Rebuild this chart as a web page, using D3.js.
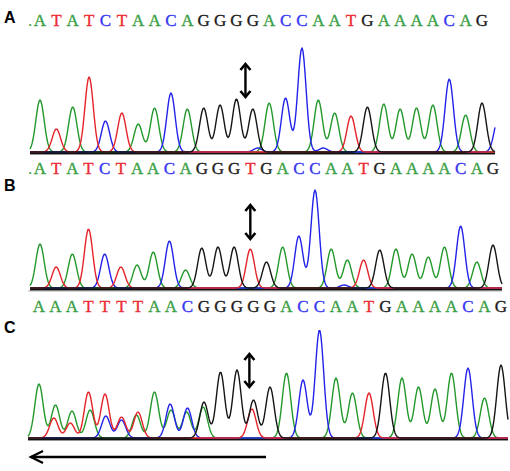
<!DOCTYPE html>
<html>
<head>
<meta charset="utf-8">
<script src="https://cdn.jsdelivr.net/npm/d3@7"></script>
<style>
  body { margin: 0; background: #fff; }
  svg { display: block; }
</style>
</head>
<body>
<div id="chart"></div>
<script>
// called sequences shown above each trace
const seqA = ".ATATCTAACAGGGGACCAATGAAAACAG";
const seqB = ".ATATCTAACAGGGTGACCAATGAAAACAG";
const seqC = "AAATTTTAACGGGGGACCAATGAAAACAG";

// main peak per base position (trace A has one clipped peak at the end)
const basesA = "ATATCTAACAGGGGACCAATGAAAACAGC";
const heightsA = [52, 23, 45, 75, 31, 39, 28, 44, 59, 43, 44, 47, 53, 43, 49, 54, 104, 52, 39, 36, 45, 48, 43, 44, 47, 73, 37, 49, 34];

const basesB = "ATATCTAACAGGGTGACCAATGAAAACAG";
const heightsB = [44, 21, 34, 59, 34, 21, 23, 36, 47, 18, 40, 41, 41, 39, 26, 41, 52, 98, 39, 28, 28, 38, 39, 34, 31, 41, 62, 26, 43];

const basesC = "AAATTTTAACGGGGGACCAATGAAAACAG";
const heightsC = [54, 33, 27, 46, 44, 21, 26, 46, 28, 30, 36, 66, 68, 38, 51, 65, 58, 108, 60, 45, 45, 65, 60, 51, 49, 65, 70, 40, 73];

// secondary peaks: [position, base, height]
const extraA = [[13.3, "C", 4], [17.3, "C", 4]];
const extraB = [[18.8, "C", 3]];
const extraC = [[0.9, "T", 20], [1.9, "T", 15], [3.1, "A", 28], [4.05, "C", 22], [5, "C", 18],
                [5.9, "A", 23], [7.95, "C", 34], [8.95, "A", 26], [9.95, "A", 31], [12.9, "T", 29]];

const traceColor = { A: "#23982b", C: "#2222e8", G: "#151515", T: "#e5232a" };
const letterColor = { A: "#3a9f45", C: "#3636f2", G: "#1c1c1c", T: "#ec2d33" };

const W = 510, H = 471;
const sigma = 0.255;

const svg = d3.select("#chart").append("svg")
    .attr("width", W)
    .attr("height", H);

const panels = [
  { label: "A", seq: seqA, bases: basesA, heights: heightsA, extra: extraA,
    labelY: 23, textY: 26, base: 152, x0: 30, x1: 495, first: 40, last: 482, lastIdx: 27,
    arrowAt: 12.55, arrowTop: 63, arrowBot: 98 },
  { label: "B", seq: seqB, bases: basesB, heights: heightsB, extra: extraB,
    labelY: 191, textY: 174, base: 288, x0: 30, x1: 502, first: 40, last: 493, lastIdx: 28,
    arrowAt: 13, arrowTop: 204, arrowBot: 240 },
  { label: "C", seq: seqC, bases: basesC, heights: heightsC, extra: extraC,
    labelY: 333, textY: 312, base: 438, x0: 28, x1: 508, first: 39, last: 501, lastIdx: 28,
    arrowAt: 12.75, arrowTop: 353, arrowBot: 388 }
];

// faint empty row line above panel C
svg.append("line")
    .attr("x1", 28).attr("x2", 502)
    .attr("y1", 291).attr("y2", 291)
    .attr("stroke", "#c9c9c9")
    .attr("stroke-width", 1.5);

panels.forEach(function(p) {
  const g = svg.append("g");

  const x = d3.scaleLinear()
      .domain([0, p.lastIdx])
      .range([p.first, p.last]);

  const y = d3.scaleLinear()
      .domain([0, 100])
      .range([p.base, p.base - 100]);

  // all peaks per channel
  const peaks = p.bases.split("").map((b, i) => ({ base: b, pos: i, h: p.heights[i] }))
      .concat(p.extra.map(e => ({ base: e[1], pos: e[0], h: e[2] })));

  const pixels = d3.range(p.x0, p.x1 + 0.01, 1);

  // black baseline under the flat parts of the traces
  g.append("line")
      .attr("x1", p.x0).attr("x2", p.x1)
      .attr("y1", p.base + 1).attr("y2", p.base + 1)
      .attr("stroke", "#111")
      .attr("stroke-width", 2.6);

  ["A", "C", "T", "G"].forEach(function(ch) {
    const chPeaks = peaks.filter(d => d.base === ch);
    const pts = pixels.map(function(px) {
      const u = x.invert(px);
      let v = 0;
      chPeaks.forEach(function(d) {
        v += d.h * Math.exp(-((u - d.pos) * (u - d.pos)) / (2 * sigma * sigma));
      });
      return [px, y(v)];
    });
    g.append("path")
        .attr("d", d3.line()(pts))
        .attr("fill", "none")
        .attr("stroke", traceColor[ch])
        .attr("stroke-width", 1.4)
        .attr("stroke-linejoin", "round");
  });

  g.append("line")
      .attr("x1", p.x0).attr("x2", p.x1)
      .attr("y1", p.base + 1.6).attr("y2", p.base + 1.6)
      .attr("stroke", "#111")
      .attr("stroke-width", 1.4);

  // base calls
  let letters = p.seq;
  if (letters[0] === ".") {
    g.append("text")
        .attr("x", x(0) - 10)
        .attr("y", p.textY)
        .attr("text-anchor", "middle")
        .attr("font-family", "Liberation Serif, serif")
        .attr("font-size", 17)
        .attr("fill", letterColor.A)
        .text(".");
    letters = letters.slice(1);
  }
  g.selectAll(".call")
      .data(letters.split(""))
      .enter().append("text")
        .attr("class", "call")
        .attr("x", (d, i) => x(i))
        .attr("y", p.textY)
        .attr("text-anchor", "middle")
        .attr("font-family", "Liberation Serif, serif")
        .attr("font-size", 17)
        .attr("fill", d => letterColor[d])
        .attr("stroke", d => letterColor[d])
        .attr("stroke-width", 0.35)
        .text(d => d);

  // panel label
  g.append("text")
      .attr("x", 4)
      .attr("y", p.labelY)
      .attr("font-family", "Liberation Sans, Arial, sans-serif")
      .attr("font-weight", "bold")
      .attr("font-size", 16)
      .attr("fill", "#000")
      .text(p.label);

  // double-headed arrow marking the variant position
  const ax = x(p.arrowAt);
  g.append("line")
      .attr("x1", ax).attr("x2", ax)
      .attr("y1", p.arrowTop + 1).attr("y2", p.arrowBot - 1)
      .attr("stroke", "#000")
      .attr("stroke-width", 2.4);
  g.append("path")
      .attr("d", `M${ax - 5},${p.arrowTop + 7}L${ax},${p.arrowTop + 1}L${ax + 5},${p.arrowTop + 7}` +
                 `M${ax - 5},${p.arrowBot - 7}L${ax},${p.arrowBot - 1}L${ax + 5},${p.arrowBot - 7}`)
      .attr("fill", "none")
      .attr("stroke", "#000")
      .attr("stroke-width", 2.6);
});

// reading direction arrow under panel C
svg.append("line")
    .attr("x1", 31).attr("x2", 266)
    .attr("y1", 457).attr("y2", 457)
    .attr("stroke", "#000")
    .attr("stroke-width", 2.4);
svg.append("path")
    .attr("d", "M43,451L31,457L43,463")
    .attr("fill", "none")
    .attr("stroke", "#000")
    .attr("stroke-width", 2.4);
</script>
</body>
</html>
